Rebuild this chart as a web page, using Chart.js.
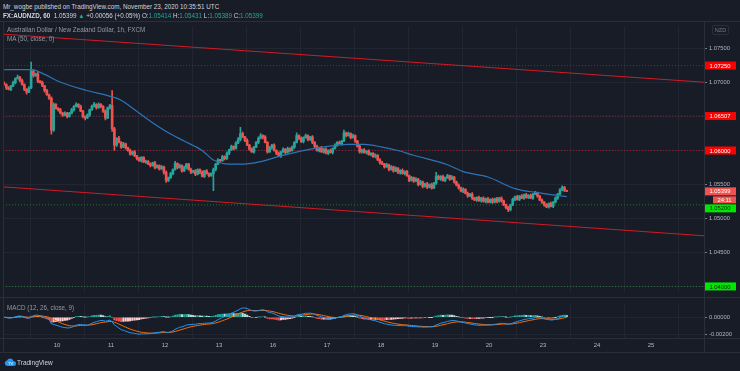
<!DOCTYPE html>
<html lang="en">
<head>
<meta charset="UTF-8">
<script src="https://cdn.jsdelivr.net/npm/chart.js"></script>
<title>AUDNZD 1h</title>
<style>
    body { margin: 0; background: #181c27; width: 740px; height: 371px; overflow: hidden; position: relative;
           font-family: "Liberation Sans", Arial, sans-serif; }
    .txt { position: absolute; white-space: nowrap; font-size: 6.3px; }
    #hdr1 { top: 3px; left: 3px; color: #d1d4dc; }
    #hdr2 { top: 12px; left: 3px; color: #d1d4dc; }
    #hdr2 .up { color: #26a69a; }
    #title { top: 26px; left: 7px; color: #9598a1; }
    #maTitle { top: 35px; left: 7px; color: #9598a1; }
    #macdTitle { top: 304px; left: 7px; color: #9598a1; }
    #nzd { top: 25px; left: 712px; width: 15px; height: 8px; border: 1px solid #2a2e39; border-radius: 2px;
           color: #787b86; font-size: 5.5px; line-height: 8px; text-align: center; }
    #tvText { top: 359px; left: 17px; color: #d1d4dc; font-size: 6.5px; }
    canvas { position: absolute; left: 0; }
    #mainChart { top: 21px; }
    #macdChart { top: 298px; }
    .hl { position: absolute; left: 0; width: 740px; height: 1px; background: #2a2e39; }
    .vl { position: absolute; top: 21px; width: 1px; height: 332px; background: #2a2e39; }
</style>
</head>
<body>

<canvas id="mainChart" width="740" height="276"></canvas>
<canvas id="macdChart" width="740" height="57"></canvas>

<div class="hl" style="top:21px"></div>
<div class="hl" style="top:297px"></div>
<div class="hl" style="top:338px"></div>
<div class="hl" style="top:352px"></div>
<div class="vl" style="left:3px"></div>
<div class="vl" style="left:704px"></div>

<div id="hdr1" class="txt">Mr_wogbe published on TradingView.com, November 23, 2020 10:35:51 UTC</div>
<div id="hdr2" class="txt"><b>FX:AUDNZD, 60</b>&nbsp; 1.05399 <span class="up">▲</span> +0.00056 (+0.05%) O:<span class="up">1.05414</span> H:<span class="up">1.05431</span> L:<span class="up">1.05389</span> C:<span class="up">1.05399</span></div>
<div id="title" class="txt">Australian Dollar / New Zealand Dollar, 1h, FXCM</div>
<div id="maTitle" class="txt">MA (50, close, 0)</div>
<div id="macdTitle" class="txt">MACD (12, 26, close, 9)</div>
<div id="nzd" class="txt">NZD</div>

<svg style="position:absolute;left:4px;top:357px" width="12" height="10" viewBox="0 0 12 10">
    <path d="M3 9 H9.5 A2.5 2.5 0 0 0 9.5 4 A3.5 3.5 0 0 0 3 3.5 A2.8 2.8 0 0 0 3 9 Z" fill="#2196f3"/>
    <text x="4" y="8" font-size="4" fill="#fff" font-family="Liberation Sans">TV</text>
</svg>
<div id="tvText" class="txt">TradingView</div>

<script>
    // hourly candles, Nov 9 00:00 .. Nov 23 10:00 (weekend skipped)
    const firstOpen = 1.0699;
    const closes = [
        // Nov 9
        1.0697, 1.0692, 1.0690, 1.0695, 1.0700, 1.0706, 1.0708, 1.0703, 1.0697, 1.0690, 1.0686, 1.0692,
        1.0717, 1.0710, 1.0713, 1.0702, 1.0700, 1.0695, 1.0688, 1.0682, 1.0677, 1.0630, 1.0668, 1.0662,
        // Nov 10
        1.0660, 1.0655, 1.0652, 1.0655, 1.0650, 1.0655, 1.0660, 1.0665, 1.0668, 1.0665, 1.0658, 1.0650,
        1.0648, 1.0652, 1.0660, 1.0665, 1.0668, 1.0663, 1.0668, 1.0665, 1.0658, 1.0648, 1.0663, 1.0666,
        // Nov 11
        1.0632, 1.0608, 1.0618, 1.0612, 1.0605, 1.0610, 1.0604, 1.0600, 1.0595, 1.0598, 1.0592, 1.0588,
        1.0585, 1.0590, 1.0583, 1.0584, 1.0580, 1.0578, 1.0582, 1.0575, 1.0578, 1.0573, 1.0576, 1.0568,
        // Nov 12
        1.0556, 1.0560, 1.0566, 1.0572, 1.0581, 1.0575, 1.0578, 1.0570, 1.0575, 1.0580, 1.0572, 1.0568,
        1.0570, 1.0565, 1.0572, 1.0568, 1.0562, 1.0570, 1.0566, 1.0563, 1.0566, 1.0572, 1.0580, 1.0586,
        // Nov 13
        1.0585, 1.0591, 1.0588, 1.0596, 1.0601, 1.0606, 1.0603, 1.0611, 1.0616, 1.0625, 1.0620, 1.0615,
        1.0608, 1.0602, 1.0598, 1.0605, 1.0612, 1.0618, 1.0622, 1.0620, 1.0612, 1.0598, 1.0604, 1.0608,
        // Nov 16
        1.0600, 1.0596, 1.0592, 1.0598, 1.0602, 1.0597, 1.0603, 1.0600, 1.0605, 1.0612, 1.0622, 1.0618,
        1.0613, 1.0619, 1.0622, 1.0616, 1.0620, 1.0612, 1.0606, 1.0600, 1.0604, 1.0598, 1.0602, 1.0596,
        // Nov 17
        1.0600, 1.0597, 1.0603, 1.0608, 1.0612, 1.0610, 1.0614, 1.0626, 1.0622, 1.0625, 1.0619, 1.0622,
        1.0614, 1.0606, 1.0598, 1.0601, 1.0597, 1.0599, 1.0594, 1.0596, 1.0591, 1.0593, 1.0586, 1.0582,
        // Nov 18
        1.0580, 1.0576, 1.0579, 1.0572, 1.0576, 1.0570, 1.0574, 1.0568, 1.0571, 1.0566, 1.0569, 1.0563,
        1.0556, 1.0560, 1.0555, 1.0558, 1.0550, 1.0554, 1.0547, 1.0551, 1.0546, 1.0550, 1.0545, 1.0552,
        // Nov 19
        1.0562, 1.0558, 1.0562, 1.0556, 1.0560, 1.0563, 1.0558, 1.0561, 1.0554, 1.0549, 1.0545, 1.0540,
        1.0543, 1.0537, 1.0533, 1.0536, 1.0530, 1.0527, 1.0531, 1.0526, 1.0530, 1.0525, 1.0529, 1.0524,
        // Nov 20
        1.0528, 1.0524, 1.0529, 1.0525, 1.0530, 1.0526, 1.0520, 1.0516, 1.0513, 1.0520, 1.0528, 1.0532,
        1.0528, 1.0533, 1.0530, 1.0535, 1.0531, 1.0534, 1.0530, 1.0536, 1.0538, 1.0533, 1.0527, 1.0524,
        // Nov 23
        1.0520, 1.0517, 1.0522, 1.0518, 1.0524, 1.0530, 1.0536, 1.0542, 1.0546, 1.05414, 1.05399
    ];

    // wick length above / below the body, in pips
    const wickUp = [
        2,1,2,1,2,1,3,1,2,1,1,2,13,2,1,3,1,2,1,2,1,2,2,1,
        1,2,1,2,1,1,2,1,2,1,2,1,1,2,1,2,3,1,2,1,1,2,1,2,
        22,2,1,3,1,2,1,1,2,1,2,1,2,1,1,2,1,2,1,2,1,1,2,1,
        2,1,2,1,3,1,2,1,2,1,1,2,1,2,1,1,2,1,2,1,1,2,1,2,
        1,2,1,2,1,2,1,2,3,9,2,1,2,1,2,1,1,2,3,1,2,1,2,1,
        2,1,2,1,2,1,2,1,2,1,4,1,2,1,2,1,1,2,1,2,1,2,1,2,
        1,2,1,2,1,2,1,4,1,2,1,2,1,1,2,1,2,1,2,1,1,2,1,2,
        2,1,2,1,2,1,2,1,1,2,1,2,1,2,1,2,1,2,1,1,2,1,2,1,
        6,2,1,2,1,2,1,2,1,1,2,1,2,1,2,1,2,1,1,2,1,2,1,2,
        1,2,1,2,1,2,1,1,2,1,2,1,2,1,2,1,2,1,2,1,2,1,1,2,
        1,2,1,2,1,2,1,2,2,1,0.2
    ];
    const wickDn = [
        1,2,1,2,1,2,1,2,1,2,3,1,1,2,1,2,1,1,2,1,2,6,2,1,
        2,1,2,1,2,1,1,2,1,2,1,2,3,1,2,1,1,2,1,2,2,3,1,2,
        4,8,2,1,2,1,2,1,2,2,1,2,1,2,1,2,1,2,1,2,1,2,1,3,
        3,2,1,2,1,2,1,2,1,2,1,2,1,2,1,2,1,2,1,2,1,25,2,1,
        2,1,2,1,2,1,2,1,1,2,1,2,1,2,1,2,1,2,1,3,1,2,1,2,
        1,2,1,2,1,2,1,2,1,2,1,2,1,2,1,2,1,2,3,1,2,1,2,1,
        2,1,2,1,2,1,2,1,2,1,2,1,2,1,2,2,1,2,1,2,1,2,1,2,
        1,2,1,2,1,2,1,2,3,1,2,1,2,1,2,1,2,1,2,1,2,1,2,1,
        2,1,2,1,2,1,2,1,2,1,2,1,2,1,2,1,2,1,2,1,2,1,2,1,
        1,2,1,2,1,2,1,2,3,2,1,2,1,2,1,2,1,2,1,2,1,2,1,2,
        2,1,2,1,2,1,2,1,1,2,0.1
    ];

    // MA(50) at some candles
    const maIndex = [0, 12, 18, 24, 36, 48, 52, 58, 65, 73, 80, 88, 93, 100, 105, 113, 123,
                     138, 153, 160, 168, 175, 182, 197, 204, 215, 227, 237, 250];
    const maValue = [1.0719, 1.0719, 1.0712, 1.0702, 1.0689, 1.0679, 1.0674, 1.0660, 1.0643, 1.0626,
                     1.0614, 1.0600, 1.0586, 1.0580, 1.0580, 1.0583, 1.0592, 1.0603, 1.0609, 1.0609,
                     1.0605, 1.0600, 1.0593, 1.0579, 1.0569, 1.0561, 1.0544, 1.0538, 1.0532];

    const dayLabels = ['10', '11', '12', '13', '16', '17', '18', '19', '20', '23', '24', '25'];
    const priceTicks = [1.075, 1.070, 1.065, 1.060, 1.055, 1.050, 1.045, 1.040];
    const macdTicks = [0, -0.002];

    // drawn channel, ends at the left and right edge of the pane
    const trendX = [-0.5, 311];
    const trendUpper = [1.07712, 1.07005];
    const trendLower = [1.05465, 1.04745];

    const levelValues = [1.0725, 1.06507, 1.06, 1.052, 1.04];
    const levelKinds = ['red', 'red', 'red', 'green', 'green'];
    const countdownText = '24:11';

    const UP = '#26a69a', DOWN = '#ef5350';
    const gridColor = '#222633';
    const axisText = '#b2b5be';

    // build candles
    const opens = closes.map((c, i) => i === 0 ? firstOpen : closes[i - 1]);
    const bodies = [], wicks = [], candleColors = [];
    closes.forEach((c, i) => {
        const o = opens[i];
        const top = Math.max(o, c), bot = Math.min(o, c);
        bodies.push({x: i, y: [o, c]});
        wicks.push({x: i, y: [bot - wickDn[i] / 10000, top + wickUp[i] / 10000]});
        candleColors.push(c >= o ? UP : DOWN);
    });

    const dayTickValues = dayLabels.map((d, k) => (k + 1) * 24 - 0.5);

    function hLine(v, color, dash) {
        return {type: 'line', data: [{x: trendX[0], y: v}, {x: trendX[1], y: v}], borderColor: color,
                borderWidth: 1, borderDash: dash, pointRadius: 0, order: 6};
    }

    const levelStyle = {
        red: {line: 'rgba(190,30,35,0.7)', bg: '#ff0000', fg: '#ffffff'},
        green: {line: 'rgba(30,150,50,0.75)', bg: '#00e600', fg: '#131722'}
    };

    const priceLabels = {
        id: 'priceLabels',
        afterDraw(chart) {
            const ctx = chart.ctx, y = chart.scales.y;
            const h = 8;
            const boxes = levelValues.map((v, k) => ({y: y.getPixelForValue(v), text: v.toFixed(5),
                bg: levelStyle[levelKinds[k]].bg, fg: levelStyle[levelKinds[k]].fg}));
            const last = closes[closes.length - 1];
            boxes.push({y: y.getPixelForValue(last), text: last.toFixed(5), bg: '#ef5350', fg: '#fff', countdown: true});
            boxes.sort((a, b) => a.y - b.y);
            let prevBottom = -100;
            ctx.save();
            ctx.font = '5.8px "Liberation Sans", Arial, sans-serif';
            ctx.textBaseline = 'middle';
            ctx.textAlign = 'center';
            boxes.forEach(b => {
                let top = b.y - h / 2;
                if (top < prevBottom + 1) top = prevBottom + 1;
                top = Math.min(top, chart.height - h);
                ctx.fillStyle = b.bg;
                ctx.fillRect(704, top, 32, h);
                ctx.fillStyle = b.fg;
                ctx.fillText(b.text, 720, top + h / 2 + 0.5);
                prevBottom = top + h;
                if (b.countdown) {
                    const t2 = prevBottom + 1;
                    ctx.fillStyle = b.bg;
                    ctx.fillRect(713, t2, 23, h - 1);
                    ctx.fillStyle = b.fg;
                    ctx.fillText(countdownText, 724.5, t2 + h / 2);
                    prevBottom = t2 + h - 1;
                }
            });
            ctx.restore();
        }
    };

    const mainChart = new Chart(document.getElementById('mainChart'), {
        type: 'bar',
        data: {
            datasets: [
                {type: 'line', data: maIndex.map((x, k) => ({x: x, y: maValue[k]})), borderColor: '#2c74b8',
                 borderWidth: 1.2, pointRadius: 0, tension: 0.4, cubicInterpolationMode: 'monotone', order: 1},
                {data: bodies, backgroundColor: candleColors, barThickness: 2, minBarLength: 1, grouped: false, order: 2},
                {data: wicks, backgroundColor: candleColors, barThickness: 1, grouped: false, order: 3},
                {type: 'line', data: trendX.map((x, k) => ({x: x, y: trendUpper[k]})), borderColor: '#d01c24',
                 borderWidth: 1, pointRadius: 0, order: 5},
                {type: 'line', data: trendX.map((x, k) => ({x: x, y: trendLower[k]})), borderColor: '#d01c24',
                 borderWidth: 1, pointRadius: 0, order: 5},
                ...levelValues.map((v, k) => hLine(v, levelStyle[levelKinds[k]].line, [1, 2]))
            ]
        },
        options: {
            responsive: false,
            animation: false,
            events: [],
            layout: {padding: {left: 3, right: 0, top: 0, bottom: 0}},
            plugins: {legend: {display: false}, tooltip: {enabled: false}},
            scales: {
                x: {
                    type: 'linear', min: -0.5, max: 311, offset: false,
                    afterBuildTicks: s => { s.ticks = dayTickValues.map(v => ({value: v})); },
                    afterFit: s => { s.height = 0; },
                    ticks: {display: false},
                    grid: {color: gridColor, drawTicks: false},
                    border: {display: false}
                },
                y: {
                    position: 'right', min: 1.03925, max: 1.07825, beginAtZero: false,
                    afterBuildTicks: s => { s.ticks = priceTicks.map(v => ({value: v})); },
                    afterFit: s => { s.width = 36; },
                    ticks: {color: axisText, padding: 2, font: {size: 5.8, family: '"Liberation Sans", Arial'},
                            callback: v => Number(v).toFixed(5)},
                    grid: {color: gridColor, tickColor: '#787b86', tickLength: 3},
                    border: {display: false}
                }
            }
        },
        plugins: [priceLabels]
    });

    // MACD (12, 26, close, 9)
    function ema(arr, n) {
        const k = 2 / (n + 1);
        const out = [];
        let e = arr[0];
        arr.forEach((v, i) => {
            e = i === 0 ? v : v * k + e * (1 - k);
            out.push(e);
        });
        return out;
    }
    const ema12 = ema(closes, 12), ema26 = ema(closes, 26);
    const macd = closes.map((c, i) => ema12[i] - ema26[i]);
    const signal = ema(macd, 9);
    const hist = macd.map((m, i) => m - signal[i]);
    const histColors = hist.map((h, i) => {
        const prev = i === 0 ? 0 : hist[i - 1];
        if (h >= 0) return h >= prev ? '#26a69a' : '#b2dfdb';
        return h < prev ? '#ef5350' : '#ffcdd2';
    });

    const macdChart = new Chart(document.getElementById('macdChart'), {
        type: 'bar',
        data: {
            datasets: [
                {type: 'line', data: macd.map((v, i) => ({x: i, y: v})), borderColor: '#2196f3',
                 borderWidth: 1, pointRadius: 0, order: 1},
                {type: 'line', data: signal.map((v, i) => ({x: i, y: v})), borderColor: '#ff6d00',
                 borderWidth: 1, pointRadius: 0, order: 2},
                {data: hist.map((v, i) => ({x: i, y: v})), backgroundColor: histColors, barThickness: 1.5,
                 grouped: false, order: 3}
            ]
        },
        options: {
            responsive: false,
            animation: false,
            events: [],
            layout: {padding: {left: 3, right: 0, top: 0, bottom: 0}},
            plugins: {legend: {display: false}, tooltip: {enabled: false}},
            scales: {
                x: {
                    type: 'linear', min: -0.5, max: 311, offset: false,
                    afterBuildTicks: s => { s.ticks = dayTickValues.map(v => ({value: v})); },
                    afterFit: s => { s.height = 17; },
                    ticks: {color: axisText, padding: 4, maxRotation: 0, font: {size: 6, family: '"Liberation Sans", Arial'},
                            callback: (v) => dayLabels[dayTickValues.indexOf(v)]},
                    grid: {color: gridColor, drawTicks: false},
                    border: {display: false}
                },
                y: {
                    position: 'right', min: -0.0024, max: 0.0016, beginAtZero: false,
                    afterBuildTicks: s => { s.ticks = macdTicks.map(v => ({value: v})); },
                    afterFit: s => { s.width = 36; },
                    ticks: {color: axisText, padding: 2, font: {size: 5.8, family: '"Liberation Sans", Arial'},
                            callback: v => Number(v).toFixed(5)},
                    grid: {color: gridColor, tickColor: '#787b86', tickLength: 3},
                    border: {display: false}
                }
            }
        }
    });
</script>
</body>
</html>
